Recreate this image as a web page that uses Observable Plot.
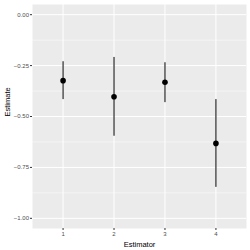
<!DOCTYPE html>
<html><head><meta charset="utf-8">
<script src="https://cdn.jsdelivr.net/npm/d3@7"></script>
<script src="https://cdn.jsdelivr.net/npm/@observablehq/plot@0.6"></script>
<style>body{margin:0;background:#fff}</style>
</head><body><div id="c"></div>
<script>
const estimators = [1, 2, 3, 4];
const estimates = [-0.324, -0.403, -0.332, -0.632];
const lower = [-0.417, -0.597, -0.432, -0.848];
const upper = [-0.231, -0.210, -0.236, -0.417];
const yTicks = [0, -0.25, -0.5, -0.75, -1];
const yMinor = [-0.125, -0.375, -0.625, -0.875];
const data = estimators.map((e, i) => ({e, est: estimates[i], lo: lower[i], hi: upper[i]}));
const chart = Plot.plot({
  width: 250, height: 250,
  marginLeft: 32, marginRight: 4, marginTop: 4, marginBottom: 22,
  style: {fontFamily: "Liberation Sans, Arial, sans-serif", background: "#fff", fontWeight: "normal"},
  x: {domain: [0.4, 4.6], label: null},
  y: {domain: [-1.05, 0.05], label: null},
  marks: [
    Plot.frame({fill: "#ebebeb", stroke: null}),
    Plot.gridY(yMinor, {stroke: "#fff", strokeOpacity: 1, strokeWidth: 0.5}),
    Plot.gridY(yTicks, {stroke: "#fff", strokeOpacity: 1, strokeWidth: 1}),
    Plot.gridX(estimators, {stroke: "#fff", strokeOpacity: 1, strokeWidth: 1}),
    Plot.axisX(estimators, {tickSize: 2, stroke: "#333", fill: "#4d4d4d", fontSize: 6, tickPadding: 1.5, tickFormat: d => String(d)}),
    Plot.axisY(yTicks, {tickSize: 2, stroke: "#333", fill: "#4d4d4d", fontSize: 6, tickPadding: 1.5, tickFormat: d => d.toFixed(2).replace("-", "\u2212")}),
    Plot.ruleX(data, {x: "e", y1: "lo", y2: "hi", stroke: "#000", strokeWidth: 1}),
    Plot.dot(data, {x: "e", y: "est", r: 2.8, fill: "#000", stroke: null}),
    Plot.text(["Estimator"], {frameAnchor: "bottom", dy: 18, fontSize: 7.5, fill: "#000", fontWeight: "normal"}),
    Plot.text(["Estimate"], {frameAnchor: "left", dx: -25, rotate: -90, fontSize: 7.5, fill: "#000", fontWeight: "normal"})
  ]
});
document.getElementById("c").appendChild(chart);
</script></body></html>
